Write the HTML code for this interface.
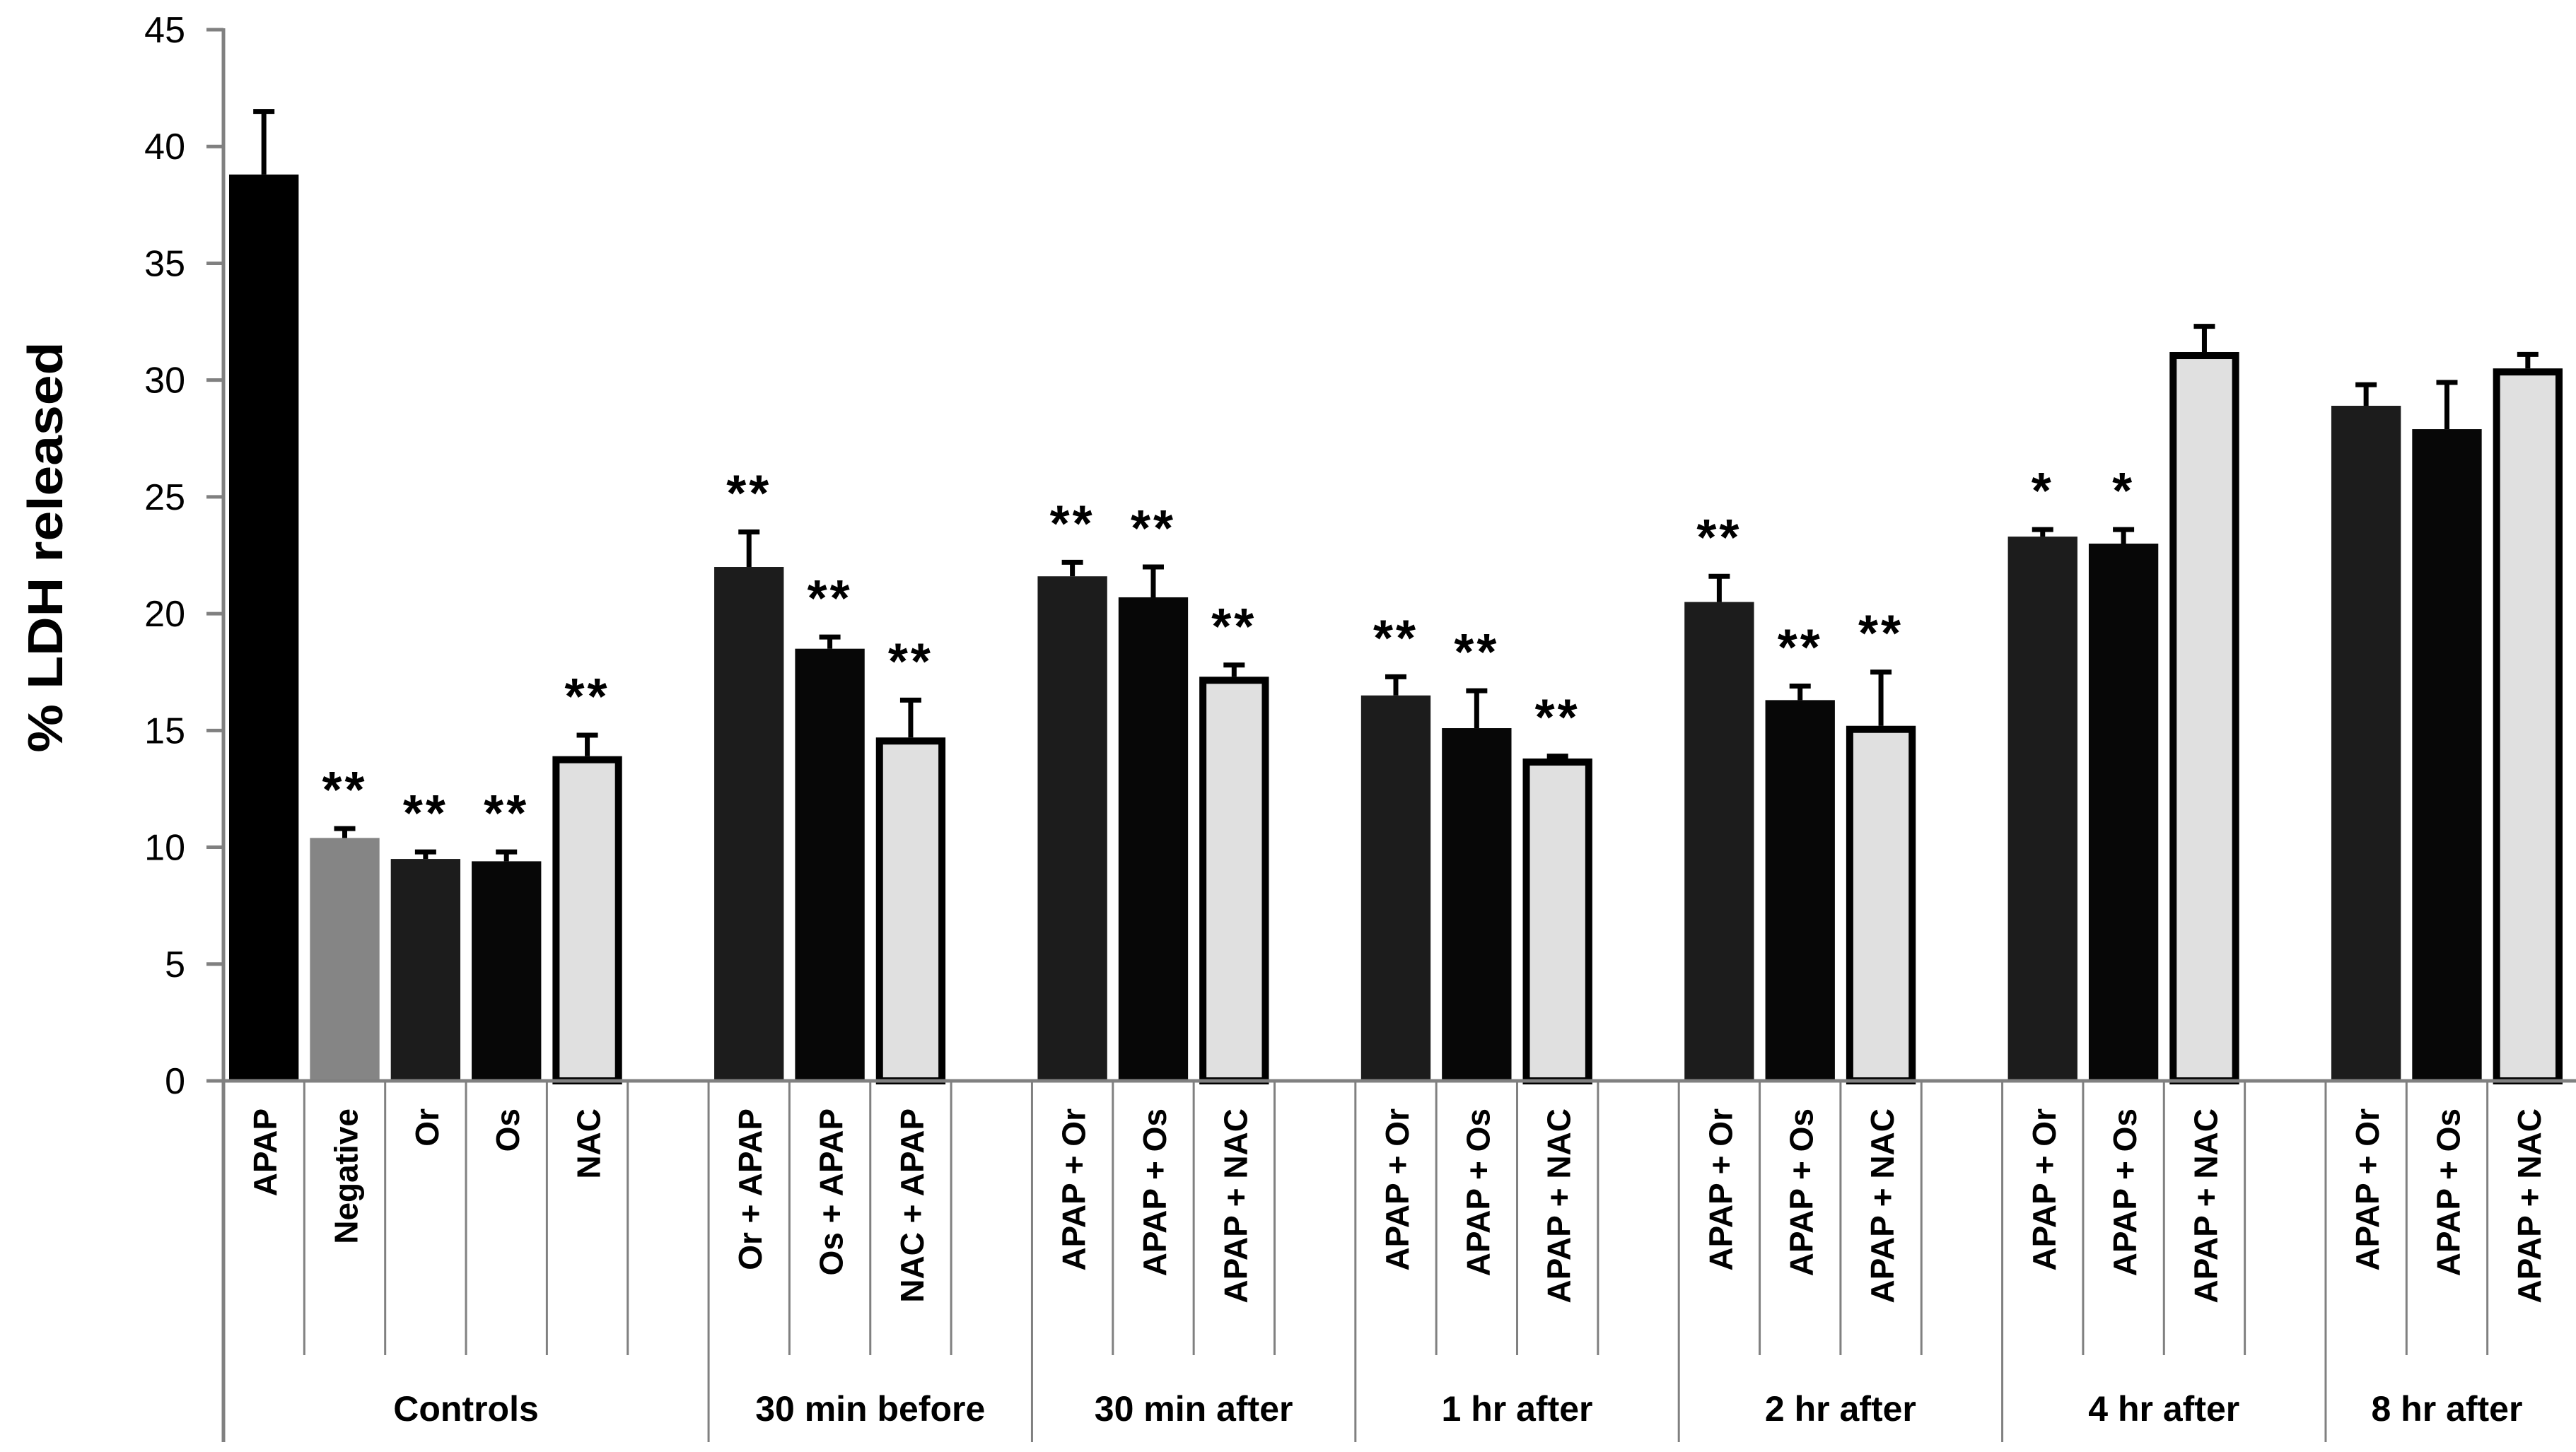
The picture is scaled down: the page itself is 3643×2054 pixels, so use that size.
<!DOCTYPE html>
<html><head><meta charset="utf-8"><style>
html,body{margin:0;padding:0;background:#fff;}
svg{display:block;}
text{font-family:"Liberation Sans",sans-serif;}
</style></head><body>
<svg id="chart" width="3643" height="2054" viewBox="0 0 3643 2054" xmlns="http://www.w3.org/2000/svg"></svg>
<script>
const categories = ["APAP","Negative","Or","Os","NAC",
 "Or + APAP","Os + APAP","NAC + APAP",
 "APAP + Or","APAP + Os","APAP + NAC",
 "APAP + Or","APAP + Os","APAP + NAC",
 "APAP + Or","APAP + Os","APAP + NAC",
 "APAP + Or","APAP + Os","APAP + NAC",
 "APAP + Or","APAP + Os","APAP + NAC"];
const groups = ["Controls","30 min before","30 min after","1 hr after","2 hr after","4 hr after","8 hr after"];
const groupSizes = [5,3,3,3,3,3,3];
const values = [38.8,10.4,9.5,9.4,13.9, 22.0,18.5,14.7, 21.6,20.7,17.3, 16.5,15.1,13.8, 20.5,16.3,15.2, 23.3,23.0,31.2, 28.9,27.9,30.5];
const errors = [2.7,0.4,0.3,0.4,0.9, 1.5,0.5,1.6, 0.6,1.3,0.5, 0.8,1.6,0.1, 1.1,0.6,2.3, 0.3,0.6,1.1, 0.9,2.0,0.6];
const stars = ["","**","**","**","**", "**","**","**", "**","**","**", "**","**","**", "**","**","**", "*","*","", "","",""];
const kinds = ["apap","neg","or","os","nac", "or","os","nac","or","os","nac","or","os","nac","or","os","nac","or","os","nac","or","os","nac"];
const yTicks = [0,5,10,15,20,25,30,35,40,45];

const svg = document.getElementById('chart');
const NS = "http://www.w3.org/2000/svg";
const X0 = 316, X1 = 3632, Y0 = 1529, Y45 = 42;
const slot = (X1 - X0) / 29;
const y = v => Y0 - (Y0 - Y45) * v / 45;
function mk(tag, attrs, parent) {
  const e = document.createElementNS(NS, tag);
  for (const k in attrs) e.setAttribute(k, attrs[k]);
  (parent || svg).appendChild(e);
  return e;
}
const fills = {apap:"#000000", neg:"#858585", or:"#1c1c1c", os:"#070707", nac:"#e0e0e0"};
const DV = '"DejaVu Sans",sans-serif';

const title = mk('text', {x:0, y:0, transform:"translate(88,774) rotate(-90)", 'text-anchor':"middle", 'font-size':70, 'font-weight':"bold", textLength:581, lengthAdjust:"spacingAndGlyphs"});
title.textContent = "% LDH released";



yTicks.forEach(t => {
  const ty = y(t);
  const l = mk('line', {x1:X0-24, x2:X0, y1:ty, y2:ty, stroke:"#808080", 'stroke-width':5});
  
  
  const tx = mk('text', {x:262, y:ty+18, 'text-anchor':"end", 'font-size':52, 'font-family':DV});
  tx.textContent = t;
  
  
});

const slotIdx = [];
let s = 0;
groupSizes.forEach(n => {
  for (let i = 0; i < n; i++) slotIdx.push(s + i);
  s += n + 1;
});

let acc = 0;
const groupStarts = [];
groupSizes.forEach(n => { groupStarts.push(acc); acc += n + 1; });
for (let k = 0; k < 29; k++) {
  const xx = X0 + k * slot;
  const isGroup = groupStarts.includes(k);
  const l = mk('line', {x1:xx, x2:xx, y1:Y0, y2:isGroup ? 2040 : 1917, stroke:"#808080", 'stroke-width':3});
  
  
}

groups.forEach((g, gi) => {
  const start = groupStarts[gi];
  const end = gi < groups.length - 1 ? groupStarts[gi+1] : 29;
  const cx = X0 + (start + end) / 2 * slot;
  const t = mk('text', {x:cx, y:2010, 'text-anchor':"middle", 'font-size':50, 'font-weight':"bold"});
  t.textContent = g;
  
  
});

const bw = slot * 0.86;
values.forEach((v, i) => {
  const cx = X0 + (slotIdx[i] + 0.5) * slot;
  const top = y(v);
  const kind = kinds[i];
  let bar;
  if (kind === 'nac') {
    bar = mk('rect', {x:cx-bw/2+5, y:top+5, width:bw-10, height:Y0-top-5, fill:fills[kind], stroke:"#000", 'stroke-width':10});
  } else {
    bar = mk('rect', {x:cx-bw/2, y:top, width:bw, height:Y0-top, fill:fills[kind]});
  }
  
  
  const et = y(v + errors[i]);
  const eb = mk('path', {d:`M${cx},${top} V${et} M${cx-15},${et} H${cx+15}`, stroke:"#000", 'stroke-width':7, fill:"none"});
  
  
  if (stars[i]) {
    const st = mk('text', {x:cx, y:et-30, 'text-anchor':"middle", 'font-size':72, 'font-weight':"bold", 'letter-spacing':4});
    st.textContent = stars[i];
    
    
  }
  const lbl = mk('text', {x:0, y:0, transform:`translate(${cx+18},1568) rotate(-90)`, 'text-anchor':"end", 'font-size':46, 'font-weight':"bold", 'font-family':DV});
  lbl.textContent = categories[i];
  
  
});

const ya = mk('line', {x1:X0, x2:X0, y1:Y45-2, y2:2040, stroke:"#808080", 'stroke-width':5});


const xa = mk('line', {x1:X0, x2:3643, y1:Y0, y2:Y0, stroke:"#808080", 'stroke-width':5});


</script>
</body></html>
